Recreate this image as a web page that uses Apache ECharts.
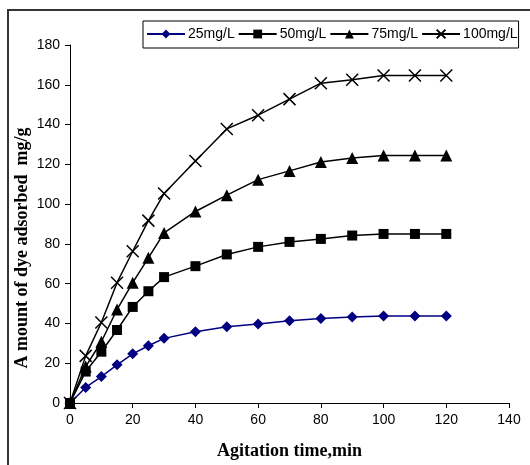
<!DOCTYPE html>
<html>
<head>
<meta charset="utf-8">
<script src="https://cdn.jsdelivr.net/npm/echarts@6/dist/echarts.min.js"></script>
<style>
  html, body { margin: 0; padding: 0; background: #fff; }
  #chart { width: 530px; height: 465px; }
</style>
</head>
<body>
<div id="chart"></div>
<script>
// Agitation time (min)
const times = [0, 5, 10, 15, 20, 25, 30, 40, 50, 60, 70, 80, 90, 100, 110, 120];

// Amount of dye adsorbed (mg/g) for each initial concentration
const c25  = [0, 7.8, 13.3, 19.2, 24.7, 28.8, 32.5, 35.8, 38.3, 39.7, 41.3, 42.5, 43.2, 43.8, 43.8, 43.8];
const c50  = [0, 15.8, 25.8, 36.7, 48.3, 56.2, 63.3, 68.8, 74.7, 78.5, 81, 82.5, 84.2, 85, 85, 85];
const c75  = [0, 18.3, 30.8, 47, 60.5, 73, 85.5, 96.3, 104.5, 112.3, 116.7, 121.2, 123.2, 124.4, 124.5, 124.5];
const c100 = [0, 23.7, 40.5, 60.5, 76.3, 91.7, 105.3, 121.7, 137.8, 144.7, 152.8, 160.8, 162.5, 164.7, 164.7, 164.7];

const seriesNames = ['25mg/L', '50mg/L', '75mg/L', '100mg/L'];
const yTitle = 'A mount of dye adsorbed  mg/g';
const xTitle = 'Agitation time,min';

const pairs = arr => times.map((t, i) => [t, arr[i]]);

const crossPath = 'path://M0,0L10,10M10,0L0,10';

const chart = echarts.init(document.getElementById('chart'), null, { renderer: 'canvas' });

const sans = 'Liberation Sans, Arial, sans-serif';
const serif = 'Liberation Serif, Times New Roman, serif';
const axisText = { color: '#000', fontFamily: sans, fontSize: 14 };

chart.setOption({
  animation: false,
  backgroundColor: '#fff',
  graphic: [
    {
      // outer frame
      type: 'rect',
      shape: { x: 8, y: 10, width: 700, height: 700 },
      style: { fill: 'none', stroke: '#333', lineWidth: 2 },
      z: -1
    },
    {
      // vertical axis title
      type: 'text',
      x: 22, y: 248,
      rotation: Math.PI / 2,
      style: {
        text: yTitle,
        fill: '#000',
        font: 'bold 18px ' + serif,
        textAlign: 'center',
        textVerticalAlign: 'middle'
      }
    }
  ],
  legend: {
    data: seriesNames,
    left: 143,
    top: 21,
    itemWidth: 38,
    itemHeight: 11,
    itemGap: 3,
    padding: [6, 1, 7, 3],
    borderColor: '#000',
    borderWidth: 1,
    textStyle: { color: '#000', fontFamily: sans, fontSize: 14, padding: [0, 0, 0, -2] }
  },
  grid: { left: 70, right: 21, top: 45, bottom: 60 },
  xAxis: {
    type: 'value',
    min: 0, max: 140, interval: 20,
    name: xTitle,
    nameLocation: 'middle',
    nameGap: 39,
    nameTextStyle: { color: '#000', fontFamily: serif, fontWeight: 'bold', fontSize: 18 },
    axisLine: { lineStyle: { color: '#000', width: 1 } },
    axisTick: { show: true, length: 5, lineStyle: { color: '#000' } },
    axisLabel: Object.assign({ margin: 10 }, axisText),
    splitLine: { show: false }
  },
  yAxis: {
    type: 'value',
    min: 0, max: 180, interval: 20,
    axisLine: { show: true, lineStyle: { color: '#000', width: 1 } },
    axisTick: { show: true, length: 5, lineStyle: { color: '#000' } },
    axisLabel: Object.assign({ margin: 10 }, axisText),
    splitLine: { show: false }
  },
  series: [
    {
      name: seriesNames[0], type: 'line', data: pairs(c25),
      symbol: 'diamond', symbolSize: 11,
      lineStyle: { color: '#000080', width: 1.5 },
      itemStyle: { color: '#000080' }
    },
    {
      name: seriesNames[1], type: 'line', data: pairs(c50),
      symbol: 'rect', symbolSize: 10,
      lineStyle: { color: '#000', width: 1.5 },
      itemStyle: { color: '#000' }
    },
    {
      name: seriesNames[2], type: 'line', data: pairs(c75),
      symbol: 'triangle', symbolSize: 12,
      lineStyle: { color: '#000', width: 1.5 },
      itemStyle: { color: '#000' }
    },
    {
      name: seriesNames[3], type: 'line', data: pairs(c100),
      symbol: crossPath, symbolSize: 12,
      lineStyle: { color: '#000', width: 1.5 },
      itemStyle: { color: 'none', borderColor: '#000', borderWidth: 1.5 }
    }
  ]
});
</script>
</body>
</html>
